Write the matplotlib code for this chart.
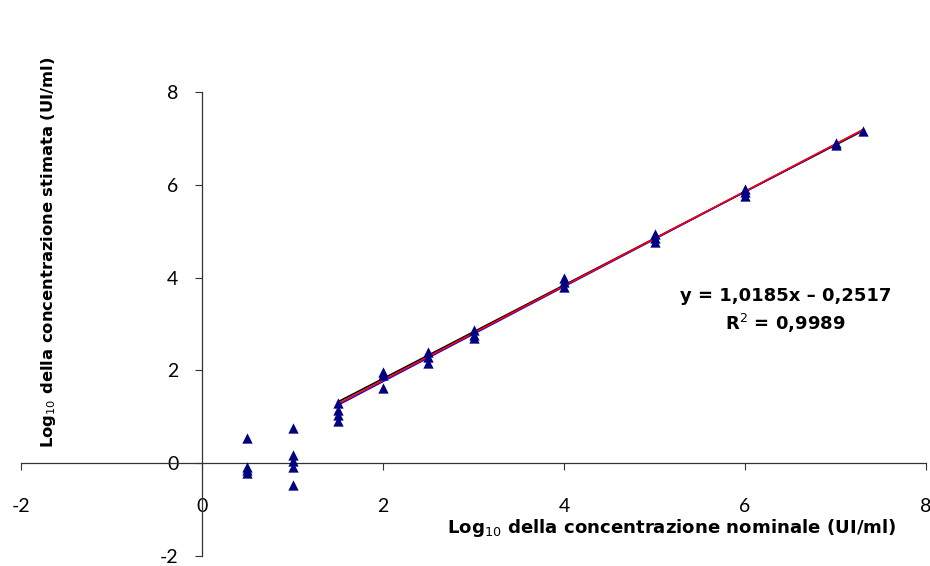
import matplotlib
matplotlib.use("Agg")
import matplotlib.pyplot as plt
import numpy as np

plt.rcParams['font.family'] = ['Lato', 'DejaVu Sans']

# Data: nominal log10 concentration vs estimated log10 concentration
x_nom = [0.5, 0.5, 0.5, 0.5,
         1, 1, 1, 1, 1,
         1.5, 1.5, 1.5, 1.5,
         2, 2, 2,
         2.5, 2.5, 2.5,
         3, 3, 3,
         4, 4, 4,
         5, 5, 5,
         6, 6, 6,
         7, 7,
         7.3]
y_est = [0.54, -0.08, -0.15, -0.21,
         0.75, 0.18, 0.05, -0.09, -0.47,
         1.30, 1.15, 1.03, 0.92,
         1.96, 1.90, 1.62,
         2.40, 2.28, 2.16,
         2.86, 2.76, 2.69,
         4.00, 3.90, 3.80,
         4.95, 4.85, 4.76,
         5.92, 5.85, 5.76,
         6.90, 6.86,
         7.15]

# Trend lines (range 1.5 to 7.3)
line_x = [1.5, 7.3]
black_line = [1.32, 7.16]
blue_line = [1.25, 7.18]
red_slope, red_intercept = 1.0185, -0.2517

fig = plt.figure(figsize=(9.3, 5.66), dpi=100)
ax = fig.add_axes([21 / 930, 10 / 566, 905 / 930, 464 / 566])

ax.plot(line_x, black_line, color='black', lw=1.2, zorder=2)
ax.plot(line_x, blue_line, color='#0000ff', lw=1.2, zorder=3)
ax.plot(line_x, [red_slope * v + red_intercept for v in line_x], color='#ff0000', lw=1.2, zorder=4)
ax.scatter(x_nom, y_est, marker='^', s=55, color='#000080', zorder=5, linewidths=0)

ax.set_xlim(-2, 8)
ax.set_ylim(-2, 8)
ax.spines['left'].set_position(('data', 0))
ax.spines['bottom'].set_position(('data', 0))
ax.spines['right'].set_visible(False)
ax.spines['top'].set_visible(False)
for s in ('left', 'bottom'):
    ax.spines[s].set_color('#333333')
    ax.spines[s].set_linewidth(0.9)

ax.set_xticks([-2, 0, 2, 4, 6, 8])
ax.set_yticks([-2, 0, 2, 4, 6, 8])
ax.set_xticklabels(['-2', '0', '2', '4', '6', '8'])
ax.set_yticklabels(['-2', '0', '2', '4', '6', '8'])
ax.tick_params(axis='x', direction='out', length=5, pad=20, labelsize=14, color='#333333')
ax.tick_params(axis='y', direction='out', length=5, pad=12, labelsize=14, color='#333333')

bold = dict(fontweight='bold', family=['DejaVu Sans'])

fig.text(447 / 930, 1 - 528 / 566, r'Log$_{10}$ della concentrazione nominale (UI/ml)',
         ha='left', va='center', fontsize=13.1, **bold)
fig.text(49 / 930, 1 - 252 / 566, r'Log$_{10}$ della concentrazione stimata (UI/ml)',
         ha='center', va='center', rotation=90, fontsize=11.8, **bold)

ax.text(6.45, 3.61, 'y = 1,0185x – 0,2517', ha='center', va='center',
        fontsize=13, **bold)
ax.text(6.45, 3.01, r'R$^2$ = 0,9989', ha='center', va='center',
        fontsize=13, **bold)

fig.savefig('out.png', dpi=100)
